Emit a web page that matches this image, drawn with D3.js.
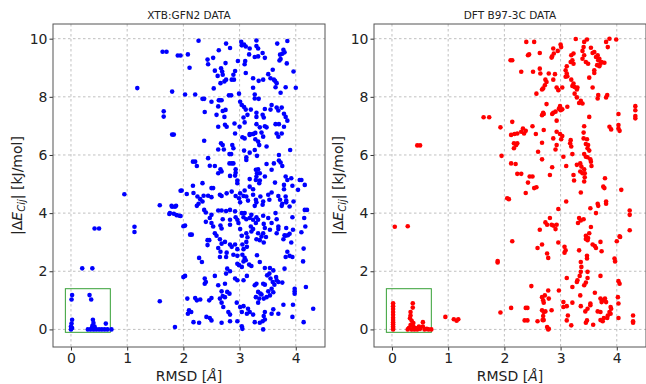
<!DOCTYPE html>
<html>
<head>
<meta charset="utf-8">
<script src="https://cdn.jsdelivr.net/npm/d3@7"></script>
<style>
  body { margin: 0; background: #fff; }
  svg { font-family: "DejaVu Sans", sans-serif; }
</style>
</head>
<body>
<svg id="chart" width="646" height="384"></svg>
<script>
// tick values and titles
const xTicks = [0, 1, 2, 3, 4];
const yTicks = [0, 2, 4, 6, 8, 10];
const panelTitles = ['XTB:GFN2 DATA', 'DFT B97-3C DATA'];
// highlight box [x0, x1, y0, y1]
const boxExtent = [-0.1, 0.7, -0.1, 1.4];

// [RMSD, |dE|]
const xtbPoints = [
  [0.02,1.18],[0.01,1.03],[0.02,0.33],[0.01,0.2],[0.0,0.1],[0.02,0.05],[0.0,0.0],[0.33,1.18],[0.36,1.03],
  [0.39,0.33],[0.4,0.22],[0.38,0.12],[0.37,0.05],[0.35,0.0],[0.4,0.0],[0.42,0.02],[0.45,0.0],[0.5,0.0],
  [0.55,0.0],[0.6,0.0],[0.62,0.2],[0.65,0.0],[0.72,0.0],[0.3,0.0],[0.42,0.1],
  [0.2,2.1],[0.38,2.1],[0.42,3.47],[0.5,3.47],[0.95,4.65],[1.13,3.53],[1.13,3.35],[1.18,8.3],[1.58,4.27],
  [1.58,0.97],[1.63,9.55],[1.7,9.55],[1.65,7.5],[1.65,7.32],[1.8,6.7],[1.83,6.7],[1.8,8.18],[1.75,3.97],
  [1.8,4.22],[1.85,4.22],[1.85,0.08],[1.88,3.93],[1.95,4.77],[1.95,3.9],[1.9,9.42],[1.95,9.42],[2.0,3.55],[2.0,1.8],
  [2.08,9.46],[2.11,9.0],[2.27,9.93],[2.43,9.28],[2.44,9.12],[2.53,9.34],[2.63,9.6],[2.76,9.83],[2.83,9.68],
  [2.75,9.16],[2.56,8.9],[2.67,8.98],[2.69,8.87],[2.7,8.76],[2.61,8.72],[2.92,8.89],[2.89,8.76],[2.9,8.59],
  [2.86,8.59],[2.76,8.59],[2.73,8.53],[2.54,8.29],[2.66,8.47],[2.97,9.23],[3.1,9.23],[3.09,9.12],[3.03,9.89],
  [3.04,9.77],[3.08,9.8],[3.11,9.73],[3.18,9.66],[3.17,9.46],[3.3,9.94],[3.3,9.75],[3.33,9.66],[3.41,9.51],
  [3.27,9.37],[3.33,9.39],[3.45,9.34],[3.67,9.83],[3.85,9.92],[3.78,9.62],[3.8,9.53],[3.76,9.48],[3.72,9.45],
  [3.73,9.3],[3.71,9.25],[3.84,9.15],[3.96,8.87],[3.11,8.82],[3.24,8.64],[3.34,8.55],[3.42,8.59],[3.51,8.78],
  [3.55,8.64],[3.59,8.93],[3.61,8.59],[3.66,8.47],[3.64,8.33],[3.63,8.55],[3.24,8.31],[3.73,8.14],[3.82,8.33],
  [4.0,8.31],[2.99,8.11],[3.27,8.08],[3.34,7.93],[3.27,7.94],[2.81,8.05],[2.85,8.05],[2.68,7.88],[2.63,7.88],
  [2.03,8.08],[2.21,8.08],[2.34,7.93],[2.37,7.93],[2.5,7.83],[2.65,7.88],[2.38,7.48],[2.62,7.67],[2.59,7.38],
  [2.7,7.51],[2.75,7.55],[2.73,7.31],[3.01,7.83],[3.04,7.72],[3.08,7.65],[3.11,7.56],[3.14,7.38],[3.2,7.56],
  [3.3,7.45],[3.3,7.31],[3.41,7.38],[3.45,7.58],[3.43,7.29],[3.57,7.72],[3.55,7.56],[3.66,7.63],[3.75,7.63],
  [3.79,7.42],[3.82,7.31],[3.85,7.18],[3.69,7.53],[3.07,7.29],[3.09,7.12],[2.91,7.08],[3.0,6.97],[2.62,6.97],
  [2.74,7.04],[2.77,6.97],[3.3,7.06],[3.36,6.95],[3.45,6.99],[3.48,6.95],[3.64,7.06],[3.7,7.06],[3.79,6.97],
  [3.18,6.72],[3.24,6.72],[3.28,6.76],
  [2.37,6.49],[2.67,6.4],[2.7,6.34],[2.87,6.34],[2.89,6.23],[2.62,6.19],[2.72,6.19],[2.82,6.03],[2.85,6.03],
  [2.92,6.74],[3.05,6.61],[3.09,6.57],[3.18,6.69],[3.24,6.72],[3.39,6.77],[3.42,6.63],[3.28,6.54],[3.33,6.46],
  [3.35,6.34],[3.48,6.29],[3.66,6.74],[3.75,6.74],[3.69,6.63],[3.08,6.15],[3.18,6.08],[3.27,6.17],[3.31,5.97],
  [3.7,6.0],[3.9,6.17],[2.82,5.71],[2.86,5.71],[2.89,5.71],[3.12,5.83],[3.12,5.92],[2.17,5.77],[2.21,5.77],
  [2.44,5.89],[2.47,5.63],[2.24,5.62],[2.56,5.62],[2.66,5.51],[2.62,5.37],[2.68,5.43],[2.93,5.51],[2.93,5.39],
  [2.92,5.29],[2.96,5.12],[2.96,5.03],[2.83,5.28],[3.48,5.69],[3.57,5.49],[3.61,5.71],[3.7,5.81],[3.73,5.74],
  [3.76,5.62],[3.29,5.49],[3.33,5.51],[3.31,5.37],[3.36,5.37],[3.3,5.26],[3.29,5.14],[3.36,5.12],[3.35,5.03],
  [3.18,5.17],[3.18,4.91],[3.24,4.82],[3.45,5.26],[3.63,5.05],[3.82,5.26],[3.85,5.14],[3.92,5.2],[3.94,4.94],
  [4.07,5.14],[4.1,5.14],[4.16,4.97],[4.04,4.8],[3.79,4.97],[3.79,4.82],[2.17,4.94],[2.34,5.03],[2.5,4.86],
  [2.53,4.86],[1.97,4.78],[2.06,4.66],[2.18,4.69],[2.25,4.57],[2.3,4.48],[2.34,4.4],[2.27,4.32],[2.24,4.25],
  [2.36,4.6],[2.44,4.6],[2.5,4.55],[2.65,4.63],[2.68,4.59],[2.77,4.68],[2.86,4.74],[3.01,4.68],[2.99,4.51],
  [3.01,4.37],[2.93,4.59],[3.09,4.78],[3.07,4.59],[3.12,4.57],[3.15,4.43],[3.24,4.63],[3.29,4.46],[3.3,4.37],
  [3.27,4.25],[3.37,4.57],[3.42,4.4],[3.41,4.29],[3.51,4.63],[3.53,4.46],[3.57,4.71],[3.69,4.59],[3.72,4.46],
  [3.82,4.57],[3.83,4.43],[3.83,4.37],[3.75,4.25],[3.76,4.32],[3.96,4.4],[3.89,4.23],[4.16,4.11],[4.2,4.11],
  [1.79,4.25],[1.87,4.25],[1.76,4.0],[1.83,3.98],[1.93,3.91],[2.03,3.57],[2.37,4.11],[2.4,4.02],[2.5,3.94],
  [2.62,4.09],[2.68,4.09],[2.76,4.07],[2.83,4.11],[2.92,4.06],[2.7,3.79],[2.83,3.77],[2.47,3.83],[2.5,3.66],
  [2.53,3.54],[2.4,3.7],[2.66,3.57],[2.68,3.47],[2.93,3.86],[2.96,3.77],[3.04,4.0],[3.09,4.0],[3.07,3.86],
  [3.12,3.79],[3.18,3.83],[3.21,3.94],[3.24,3.77],[3.29,3.66],[3.3,3.86],[3.33,3.77],[3.2,3.54],[3.24,3.45],
  [3.21,3.37],[3.42,3.91],[3.43,3.63],[3.45,3.49],[3.51,3.83],[3.57,3.66],[3.54,3.43],[3.64,4.0],[3.66,3.79],
  [3.69,3.54],[3.69,3.45],[3.33,3.31],[3.39,3.2],[3.42,3.31],[3.83,3.49],[3.89,3.29],[3.94,3.86],[4.15,3.83],
  [4.17,3.54],[3.95,3.43],[2.83,3.6],[2.98,3.66],[3.01,3.45],[3.04,3.22],[3.12,3.31],[3.14,3.17],[2.56,3.31],
  [2.59,3.22],[2.12,3.26],[2.15,3.26],[3.66,3.31],[3.82,3.22],[4.1,3.34],
  [2.43,3.07],[2.46,3.07],[2.43,2.9],[2.65,3.1],[2.68,2.95],[2.74,3.01],[2.83,2.92],[2.86,2.84],[2.92,2.92],
  [2.96,2.76],[3.05,2.92],[3.07,2.76],[3.12,3.01],[3.13,2.84],[3.3,3.1],[3.36,3.07],[3.43,2.99],[3.47,3.18],
  [3.78,3.1],[3.8,3.24],[3.86,3.24],[3.92,2.99],[4.14,2.78],[2.28,2.46],[2.33,2.32],[2.62,2.8],[2.65,2.49],
  [2.66,2.67],[2.77,2.64],[2.76,2.49],[2.89,2.57],[2.96,2.53],[3.05,2.57],[3.09,2.46],[3.07,2.34],[3.11,2.38],
  [2.99,2.21],[3.04,2.15],[2.96,2.26],[3.17,2.23],[3.21,2.18],[3.31,2.55],[3.36,2.32],[3.45,2.11],[3.54,2.11],
  [3.6,2.03],[3.53,1.92],[3.49,1.86],[3.55,1.75],[3.59,1.63],[3.65,1.8],[3.66,1.69],[3.62,1.54],[3.69,1.63],
  [3.76,1.61],[3.57,1.4],[3.51,1.31],[3.54,1.17],[3.48,1.11],[3.43,1.06],[3.39,1.2],[3.6,1.28],[3.45,1.54],
  [3.82,2.49],[3.85,2.67],[3.89,2.53],[3.94,2.49],[3.8,2.09],[4.13,2.34],[3.98,1.4],[3.98,1.31],[3.98,1.23],
  [4.18,1.46],[3.95,0.85],[4.14,0.25],[4.31,0.71],[2.78,2.09],[2.83,2.0],[2.76,1.92],[2.92,1.75],[2.96,1.69],
  [3.07,1.69],[3.13,1.84],[2.03,1.84],[2.38,1.75],[2.4,1.63],[2.38,1.57],[2.56,1.84],[2.62,1.52],[2.74,1.57],
  [2.78,1.29],[2.74,1.11],[2.82,1.23],[2.68,1.31],[2.7,1.15],[3.27,1.52],[3.3,1.57],[3.42,1.57],[3.33,1.29],
  [3.37,1.23],[3.35,1.06],[3.29,1.11],[3.33,0.92],[2.07,1.06],[2.21,1.08],[2.24,1.0],[2.3,1.03],[2.1,0.66],
  [2.08,0.54],[2.14,0.6],[2.46,1.0],[2.5,1.08],[2.65,1.06],[2.68,0.92],[2.71,0.77],[2.8,0.6],[2.83,0.51],
  [2.95,0.92],[3.01,0.77],[3.07,0.8],[3.15,0.71],[3.04,0.6],[3.13,0.54],[3.18,0.6],[3.24,0.51],[3.45,0.6],
  [3.43,0.46],[3.45,0.34],[3.41,0.28],[3.57,0.54],[3.69,0.54],[3.78,0.85],[3.6,0.69],[2.18,0.25],[2.28,0.23],
  [2.41,0.43],[2.47,0.39],[2.5,0.31],[2.68,0.23],[2.83,0.28],[2.96,0.28],[3.04,0.11],[3.05,0.02],[3.27,0.25],
  [3.36,0.23],[3.42,0.0],[3.94,0.43]
];

const dftPoints = [
  [0.02,0.9],[0.02,0.8],[0.02,0.7],[0.02,0.6],[0.02,0.5],[0.02,0.4],[0.02,0.32],[0.02,0.25],[0.02,0.18],
  [0.02,0.1],[0.02,0.05],[0.02,0.0],[0.37,0.9],[0.37,0.75],[0.33,0.6],[0.33,0.48],[0.32,0.38],[0.35,0.3],
  [0.38,0.22],[0.33,0.15],[0.38,0.1],[0.3,0.05],[0.42,0.05],[0.28,0.0],[0.35,0.0],[0.4,0.0],[0.45,0.0],
  [0.5,0.02],[0.55,0.25],[0.55,0.1],[0.58,0.0],[0.62,0.02],[0.65,0.0],[0.7,0.0],[0.48,0.1],
  [0.05,3.53],[0.28,3.55],[0.45,6.33],[0.5,6.33],[0.95,0.43],[1.1,0.35],[1.15,0.3],[1.18,0.35],[1.63,7.3],
  [1.73,7.3],[1.88,2.35],[1.88,2.3],[1.93,0.58],[1.93,6.95],[1.95,5.97],
  [2.39,9.89],[2.53,9.89],[2.42,9.43],[2.44,9.46],[2.63,9.51],[2.11,9.26],[2.14,9.26],[2.3,8.86],[2.51,8.86],
  [2.63,8.97],[2.87,9.66],[2.88,9.49],[2.85,9.39],[2.84,9.35],[2.95,9.58],[3.0,9.8],[3.01,9.71],[3.27,9.99],
  [3.19,9.43],[3.23,9.49],[3.18,9.2],[3.21,9.26],[3.23,9.14],[3.42,9.89],[3.47,9.97],[3.41,9.71],[3.39,9.58],
  [3.42,9.43],[3.39,9.31],[3.45,9.2],[3.49,9.14],[3.54,9.69],[3.57,9.51],[3.6,9.54],[3.63,9.37],[3.66,9.43],
  [3.69,9.31],[3.67,9.26],[3.71,9.14],[3.73,9.2],[3.78,9.17],[3.65,9.09],[3.69,9.05],[3.81,9.89],[3.87,10.0],
  [3.99,9.97],[3.84,9.71],[2.64,8.8],[2.79,8.8],[2.9,8.78],[3.09,8.91],[3.11,8.8],[3.12,8.71],[3.09,8.69],
  [3.11,9.05],[2.73,8.59],[2.75,8.51],[2.72,8.4],[2.69,8.29],[2.67,8.25],[2.87,8.59],[2.57,8.11],[2.93,8.32],
  [2.96,8.23],[3.03,8.32],[3.19,8.59],[3.23,8.46],[3.21,8.37],[3.25,8.34],[3.3,8.32],[3.29,8.25],[3.51,8.66],
  [3.57,8.32],[3.6,8.91],[3.6,8.82],[3.67,8.06],[3.66,7.94],[3.83,8.06],[3.81,7.98],[3.25,8.11],[3.29,7.98],
  [3.36,7.86],[3.39,7.77],[3.33,7.79],[2.75,7.75],[2.99,7.68],[3.03,7.57],[3.0,7.54],[2.97,7.59],[2.91,7.49],
  [3.12,7.66],[2.87,7.45],[2.85,7.41],[2.69,7.45],[2.67,7.37],[2.7,7.41],[2.93,7.18],[2.14,7.14],[2.5,6.99],
  [3.42,6.99],[3.41,6.77],[3.51,7.31],[3.87,6.97],[3.9,6.88],[4.03,7.03],[4.03,6.91],[4.05,6.83],[4.33,7.68],
  [4.33,7.54],[4.33,7.34],[4.33,7.26],[4.03,7.41],[2.23,6.74],[2.3,6.8],[2.35,6.74],[2.33,6.91],[2.38,6.83],
  [2.12,6.69],[2.18,6.72],[2.56,6.72],[2.7,6.86],[2.93,6.8],[2.99,6.72],
  [2.17,6.4],[2.21,6.34],[2.17,6.23],[2.23,6.4],[2.6,6.11],[2.67,6.42],[2.87,6.57],[2.93,6.34],[2.91,6.19],
  [3.03,6.65],[3.01,6.54],[3.18,6.51],[3.17,6.4],[3.19,6.29],[3.21,6.03],[3.05,5.94],[3.41,6.57],[3.47,6.54],
  [3.45,6.38],[3.49,6.34],[3.48,6.23],[3.51,6.15],[3.42,6.03],[3.45,5.94],[3.48,5.92],[3.53,5.85],[3.54,5.77],
  [3.55,5.62],[2.12,5.71],[2.2,5.69],[2.23,5.35],[2.3,5.35],[2.45,5.26],[2.5,5.26],[2.42,5.05],[2.53,4.86],
  [2.57,4.89],[2.38,4.69],[2.05,4.51],[2.08,4.48],[2.67,5.85],[2.85,5.58],[2.81,5.31],[3.1,5.62],[3.23,5.31],
  [3.24,5.12],[3.29,5.66],[3.35,5.71],[3.37,5.6],[3.35,5.43],[3.39,5.37],[3.42,5.51],[3.43,5.37],[3.43,5.23],
  [3.42,5.09],[3.36,4.71],[3.79,5.2],[3.76,4.91],[3.78,4.86],[4.08,4.8],[3.1,4.4],[3.66,4.32],[3.67,4.25],
  [3.81,4.4],[3.81,4.32],[3.53,4.17],[2.96,4.14],[3.63,4.0],[4.23,4.09],[4.23,3.94],[2.63,3.43],[2.73,3.68],
  [2.76,3.6],[2.84,3.6],[2.87,3.57],[2.91,3.45],[2.93,3.6],[2.81,3.83],[3.33,3.83],[3.36,3.75],[3.41,3.79],
  [3.31,3.66],[3.54,3.52],[3.51,3.31],[3.45,3.22],[3.49,3.14],[3.45,3.11],[4.23,3.41],[4.05,3.2],
  [2.14,3.03],[2.96,2.99],[2.59,2.8],[2.67,2.92],[2.76,2.61],[2.78,2.46],[3.07,2.84],[3.09,2.72],[3.07,2.64],
  [3.33,2.72],[3.48,3.07],[3.57,2.92],[3.61,2.87],[3.63,2.8],[3.71,3.01],[3.73,2.69],[3.47,2.53],[3.47,2.44],
  [3.96,2.44],[3.97,2.34],[4.0,3.03],[4.06,3.18],[3.36,2.32],[3.37,2.15],[3.36,1.98],[3.48,1.98],[3.48,1.77],
  [3.34,1.84],[3.3,1.69],[3.29,1.63],[3.11,1.77],[2.48,1.49],[2.97,1.34],[3.21,1.46],[3.35,1.17],[3.45,1.61],
  [3.42,1.52],[3.71,1.84],[3.61,1.26],[4.03,1.66],[4.05,1.57],[2.67,1.11],[2.69,1.0],[2.7,0.92],[2.72,1.17],
  [2.78,1.34],[2.79,1.06],[2.67,0.66],[2.7,0.6],[2.73,0.62],[2.84,0.66],[2.69,0.46],[2.68,0.32],[2.7,0.32],
  [2.59,0.28],[2.76,0.08],[2.79,0.02],[2.78,0.0],[2.38,0.74],[2.41,0.74],[2.41,0.31],[2.36,0.31],[2.12,0.74],
  [3.05,0.77],[3.11,0.8],[3.05,0.94],[3.21,0.92],[3.13,0.48],[3.11,0.31],[3.19,0.14],[3.36,0.8],[3.44,0.62],
  [3.48,0.71],[3.53,0.89],[3.53,0.83],[3.47,0.31],[3.45,0.23],[3.58,0.16],[3.66,0.62],[3.71,1.06],[3.73,0.94],
  [3.75,1.0],[3.71,0.32],[3.75,0.28],[3.77,0.39],[3.79,1.06],[3.81,0.94],[3.84,0.48],[3.87,0.6],[3.89,0.77],
  [3.89,0.54],[3.9,0.71],[3.83,0.39],[4.02,1.11],[4.03,0.89],[4.03,0.39],[4.29,0.48],[4.29,0.28],[4.29,0.23],
  [3.71,0.6]
];

const svg = d3.select('#chart');
const panelW = 272, panelH = 323;
const panels = [
  {left: 53, top: 24, pts: xtbPoints, color: '#0000ff', title: panelTitles[0], labelX: 22},
  {left: 374, top: 24, pts: dftPoints, color: '#ff0000', title: panelTitles[1], labelX: 343}
];

panels.forEach((p) => {
  const x = d3.scaleLinear().domain([-0.32, 4.52]).range([0, panelW]);
  const y = d3.scaleLinear().domain([-0.605, 10.505]).range([panelH, 0]);

  const g = svg.append('g').attr('transform', `translate(${p.left},${p.top})`);

  // grid
  g.append('g').selectAll('line.gx').data(xTicks).enter().append('line')
    .attr('x1', (d) => x(d)).attr('x2', (d) => x(d))
    .attr('y1', 0).attr('y2', panelH)
    .attr('stroke', '#b0b0b0').attr('stroke-width', 0.8).attr('stroke-dasharray', '2.5,2.5');
  g.append('g').selectAll('line.gy').data(yTicks).enter().append('line')
    .attr('y1', (d) => y(d)).attr('y2', (d) => y(d))
    .attr('x1', 0).attr('x2', panelW)
    .attr('stroke', '#b0b0b0').attr('stroke-width', 0.8).attr('stroke-dasharray', '2.5,2.5');

  // highlight box
  g.append('rect')
    .attr('x', x(boxExtent[0])).attr('y', y(boxExtent[3]))
    .attr('width', x(boxExtent[1]) - x(boxExtent[0]))
    .attr('height', y(boxExtent[2]) - y(boxExtent[3]))
    .attr('fill', 'none').attr('stroke', '#35a035').attr('stroke-width', 1);

  // points
  g.append('g').selectAll('circle').data(p.pts).enter().append('circle')
    .attr('cx', (d) => x(d[0]))
    .attr('cy', (d) => y(d[1]))
    .attr('r', 2.3)
    .attr('fill', p.color);

  // axes
  const xAxis = g.append('g').attr('transform', `translate(0,${panelH})`)
    .call(d3.axisBottom(x).tickValues(xTicks).tickSize(3.5).tickPadding(3).tickFormat(d3.format('d')));
  const yAxis = g.append('g')
    .call(d3.axisLeft(y).tickValues(yTicks).tickSize(3.5).tickPadding(2).tickFormat(d3.format('d')));
  [xAxis, yAxis].forEach((a) => {
    a.select('.domain').remove();
    a.selectAll('line').attr('stroke', '#333');
    a.selectAll('text').attr('font-size', 14).attr('font-family', 'DejaVu Sans').attr('fill', '#222');
  });

  // frame
  g.append('rect').attr('width', panelW).attr('height', panelH)
    .attr('fill', 'none').attr('stroke', '#555').attr('stroke-width', 1);

  // title
  svg.append('text')
    .attr('x', p.left + panelW / 2).attr('y', 19)
    .attr('text-anchor', 'middle').attr('font-size', 10.5).attr('fill', '#222')
    .text(p.title);

  // x label
  const xl = svg.append('text')
    .attr('x', p.left + panelW / 2).attr('y', 381)
    .attr('text-anchor', 'middle').attr('font-size', 14).attr('fill', '#222');
  xl.append('tspan').text('RMSD [');
  xl.append('tspan').attr('font-style', 'italic').text('Å');
  xl.append('tspan').text(']');

  // y label
  const yl = svg.append('text')
    .attr('transform', `translate(${p.labelX},${p.top + panelH / 2}) rotate(-90)`)
    .attr('text-anchor', 'middle').attr('font-size', 14).attr('fill', '#222');
  yl.append('tspan').text('|Δ');
  yl.append('tspan').attr('font-style', 'italic').text('E');
  yl.append('tspan').attr('font-style', 'italic').attr('font-size', 10).attr('dy', 3).text('Cij');
  yl.append('tspan').attr('dy', -3).text('| [kJ/mol]');
});
</script>
</body>
</html>
